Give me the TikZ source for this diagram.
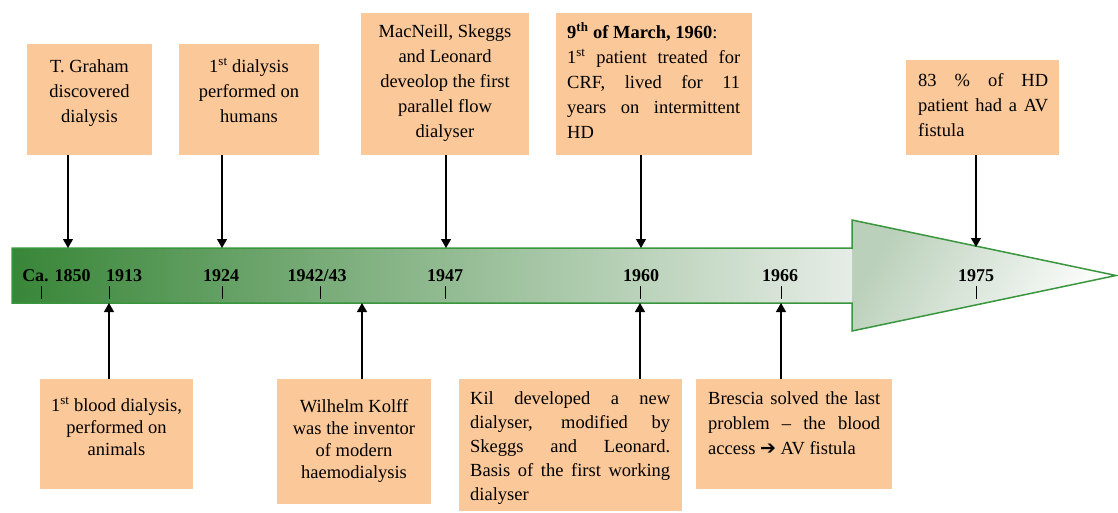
\documentclass[tikz,border=0pt]{standalone}
\usepackage{fontspec}
\setmainfont{Liberation Serif}
\newfontfamily\symfont{DejaVu Sans}
\usetikzlibrary{arrows.meta,calc}

\definecolor{peach}{RGB}{251,200,153}
\definecolor{barline}{RGB}{58,150,62}
\definecolor{shaftL}{RGB}{56,134,56}
\definecolor{shaftR}{RGB}{230,236,230}
\definecolor{headL}{RGB}{186,208,186}
\definecolor{headR}{RGB}{254,254,254}

% one justified line of fixed width
\newcommand\jline[2]{\makebox[#1pt][s]{#2}}

\begin{document}
\begin{tikzpicture}[x=1pt,y=-1pt,
  panel/.style={fill=peach, draw=none, inner sep=0pt, anchor=north west},
  txt/.style={font=\fontsize{18.5}{25}\selectfont, inner sep=0pt, anchor=north},
  txtnarrow/.style={font=\fontsize{18.5}{22}\selectfont, inner sep=0pt, anchor=north},
  ctxt/.style={txt, align=center},
  jtxt/.style={txt, align=left, anchor=north west},
  year/.style={font=\bfseries\fontsize{18}{20}\selectfont, inner sep=0pt, anchor=base},
  link/.style={draw=black, line width=1.2pt, -{Triangle[width=10pt,length=9pt]}},
  tickmark/.style={draw=black, line width=1pt}
]
\useasboundingbox (0,0) rectangle (1118,513);

% ---------- timeline arrow ----------
\shade[left color=shaftL, right color=shaftR] (12,248) rectangle (852,303);
\shade[top color=headL, bottom color=headR, shading angle=60]
  (852,220) -- (1116,275.5) -- (852,331) -- cycle;
\draw[barline, line width=1.5pt, line join=miter]
  (12,248) -- (852,248) -- (852,220) -- (1116,275.5) -- (852,331)
  -- (852,303) -- (12,303) -- cycle;

% ---------- year labels and ticks ----------
\node[year] (y1850) at (56.5,281) {Ca. 1850};
\node[year] (y1913) at (124,281) {1913};
\node[year] (y1924) at (221,281) {1924};
\node[year] (y1942) at (317,281) {1942/43};
\node[year] (y1947) at (445,281) {1947};
\node[year] (y1960) at (641,281) {1960};
\node[year] (y1966) at (780,281) {1966};
\node[year] (y1975) at (976,281) {1975};

\foreach \tx in {41,109,222,320,445,640,781,976}
  \draw[tickmark] (\tx,286) -- (\tx,299);

% arrow ends on the bar
\coordinate (a1) at (68,248);
\coordinate (a2) at (222,248);
\coordinate (a3) at (446,248);
\coordinate (a4) at (641,248);
\coordinate (a5) at (976,247);
\coordinate (c1) at (109,303);
\coordinate (c2) at (362,303);
\coordinate (c3) at (640,303);
\coordinate (c4) at (781,303);

% ---------- upper panels ----------
\node[panel, minimum width=125pt, minimum height=111pt] (b1) at (27,44) {};
\node[ctxt] (b1t) at (89.5,54.5) {\strut T. Graham\\discovered\\dialysis};

\node[panel, minimum width=140pt, minimum height=111pt] (b2) at (179,44) {};
\node[ctxt] (b2t) at (249,54.5) {\strut 1\textsuperscript{st} dialysis\\performed on\\humans};

\node[panel, minimum width=168pt, minimum height=142pt] (b3) at (361,13) {};
\node[ctxt] (b3t) at (445,19.5) {\strut MacNeill, Skeggs\\and Leonard\\deveolop the first\\parallel flow\\dialyser};

\node[panel, minimum width=196pt, minimum height=142pt] (b4) at (556,13) {};
\node[jtxt] (b4t) at (567,20.5) {\strut\textbf{9\textsuperscript{th} of March, 1960}:\\
  \jline{173}{1\textsuperscript{st} patient treated for}\\
  \jline{173}{CRF, lived for 11}\\
  \jline{173}{years on intermittent}\\
  HD};

\node[panel, minimum width=153pt, minimum height=95pt] (b5) at (906,60) {};
\node[jtxt] (b5t) at (918,68.5) {\strut\jline{130}{83 \% of HD}\\
  \jline{130}{patient had a AV}\\
  fistula};

% ---------- lower panels ----------
\node[panel, minimum width=153pt, minimum height=110pt] (b6) at (40,379) {};
\node[txtnarrow, align=center] (b6t) at (116.5,395.6) {\strut 1\textsuperscript{st} blood dialysis,\\performed on\\animals};

\node[panel, minimum width=154pt, minimum height=125pt] (b7) at (277,379) {};
\node[txtnarrow, align=center] (b7t) at (354,396.6) {\strut Wilhelm Kolff\\was the inventor\\of modern\\haemodialysis};

\node[panel, minimum width=223pt, minimum height=132pt] (b8) at (459,379) {};
\node[jtxt, font=\fontsize{18.5}{24}\selectfont] (b8t) at (470,387.2) {\strut\jline{200}{Kil developed a new}\\
  \jline{200}{dialyser, modified by}\\
  \jline{200}{Skeggs and Leonard.}\\
  \jline{200}{Basis of the first working}\\
  dialyser};

\node[panel, minimum width=196pt, minimum height=110pt] (b9) at (696,379) {};
\node[jtxt] (b9t) at (708,386.5) {\strut\jline{172}{Brescia solved the last}\\
  \jline{172}{problem – the blood}\\
  access {\symfont\fontsize{19}{25}\selectfont ➔} AV fistula};

% ---------- connectors ----------
\draw[link] (b1.south -| a1) -- (a1);
\draw[link] (b2.south -| a2) -- (a2);
\draw[link] (b3.south -| a3) -- (a3);
\draw[link] (b4.south -| a4) -- (a4);
\draw[link] (b5.south -| a5) -- (a5);
\draw[link] (b6.north -| c1) -- (c1);
\draw[link] (b7.north -| c2) -- (c2);
\draw[link] (b8.north -| c3) -- (c3);
\draw[link] (b9.north -| c4) -- (c4);
\end{tikzpicture}
\end{document}
